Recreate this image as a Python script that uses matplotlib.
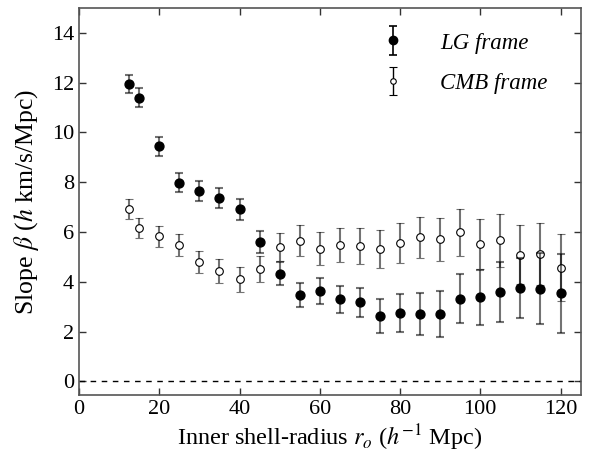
import matplotlib
matplotlib.use("Agg")
import matplotlib.pyplot as plt
from matplotlib.container import ErrorbarContainer
from matplotlib.legend_handler import HandlerErrorbar
import numpy as np

# Inner shell radii (h^-1 Mpc)
radius = [12.5, 15, 20, 25, 30, 35, 40, 45, 50, 55, 60, 65, 70, 75, 80,
          85, 90, 95, 100, 105, 110, 115, 120]

# Slope in the Local Group frame
lg_slope = [11.95, 11.39, 9.44, 7.98, 7.66, 7.35, 6.91, 5.60, 4.32, 3.46, 3.62,
            3.29, 3.18, 2.61, 2.73, 2.70, 2.69, 3.32, 3.37, 3.58, 3.76, 3.72, 3.53]
lg_err = [0.37, 0.38, 0.39, 0.39, 0.40, 0.40, 0.43, 0.44, 0.47, 0.48, 0.52,
          0.55, 0.58, 0.68, 0.76, 0.83, 0.92, 0.98, 1.09, 1.20, 1.21, 1.42, 1.59]

# Slope in the CMB frame
cmb_slope = [6.92, 6.15, 5.82, 5.48, 4.80, 4.44, 4.09, 4.50, 5.39, 5.64, 5.33,
             5.47, 5.44, 5.32, 5.56, 5.78, 5.70, 5.98, 5.52, 5.66, 5.09, 5.13, 4.57]
cmb_err = [0.40, 0.41, 0.43, 0.44, 0.45, 0.48, 0.49, 0.53, 0.57, 0.62, 0.65,
           0.69, 0.73, 0.75, 0.79, 0.84, 0.87, 0.93, 1.02, 1.05, 1.17, 1.25, 1.36]

plt.rcParams["font.family"] = ["Liberation Serif", "DejaVu Serif"]
plt.rcParams["mathtext.fontset"] = "stix"

fig = plt.figure(figsize=(5.9, 4.58), dpi=100)
ax = fig.add_axes([0.134, 0.1376, 0.850, 0.845])

bar_color = (0, 0, 0, 0.55)

ax.errorbar(radius, cmb_slope, yerr=cmb_err, fmt="o", ms=5.5, mfc="white",
            mec="black", mew=0.8, ecolor=bar_color, elinewidth=1.5,
            capsize=3, capthick=1.5, zorder=3)
ax.errorbar(radius, lg_slope, yerr=lg_err, fmt="o", ms=6.4, mfc="black",
            mec="black", ecolor=bar_color, elinewidth=1.5,
            capsize=3, capthick=1.5, zorder=4)

# Legend keys: black error bars, drawn outside the visible range
h_lg = ax.errorbar([-50], [-50], yerr=[1], fmt="o", ms=6, mfc="black",
                   mec="black", ecolor="black", elinewidth=1.2, capsize=3,
                   capthick=1.2, label="LG frame")
h_cmb = ax.errorbar([-50], [-50], yerr=[1], fmt="o", ms=4, mfc="white",
                    mec="black", mew=0.8, ecolor="black", elinewidth=1.0,
                    capsize=3, capthick=1.0, label="CMB frame")
leg = ax.legend(handles=[h_lg, h_cmb], loc="upper right", frameon=False,
                prop={"style": "italic", "size": 16.5}, handlelength=1.0,
                handletextpad=1.55, labelspacing=0.85,
                handler_map={ErrorbarContainer: HandlerErrorbar(yerr_size=0.62)},
                bbox_to_anchor=(0.975, 0.99))

ax.axhline(0, color="black", lw=1.0, ls=(0, (4, 4)))

ax.set_xlim(0, 125)
ax.set_ylim(-0.55, 15)
ax.set_xticks(np.arange(0, 121, 20))
ax.set_yticks(np.arange(0, 15, 2))
ax.tick_params(direction="in", top=True, right=True, labelsize=16,
               length=5, width=1.0, colors="#333333", labelcolor="black")
for s in ax.spines.values():
    s.set_color("#555555")
    s.set_linewidth(1.2)

ax.set_xlabel(r"Inner shell-radius $r_o$ ($h^{-1}$ Mpc)", fontsize=17.5,
              labelpad=3)
ax.set_ylabel(r"Slope $\beta$ ($h$ km/s/Mpc)", fontsize=18.5, labelpad=8)

fig.savefig("out.png", dpi=100)
